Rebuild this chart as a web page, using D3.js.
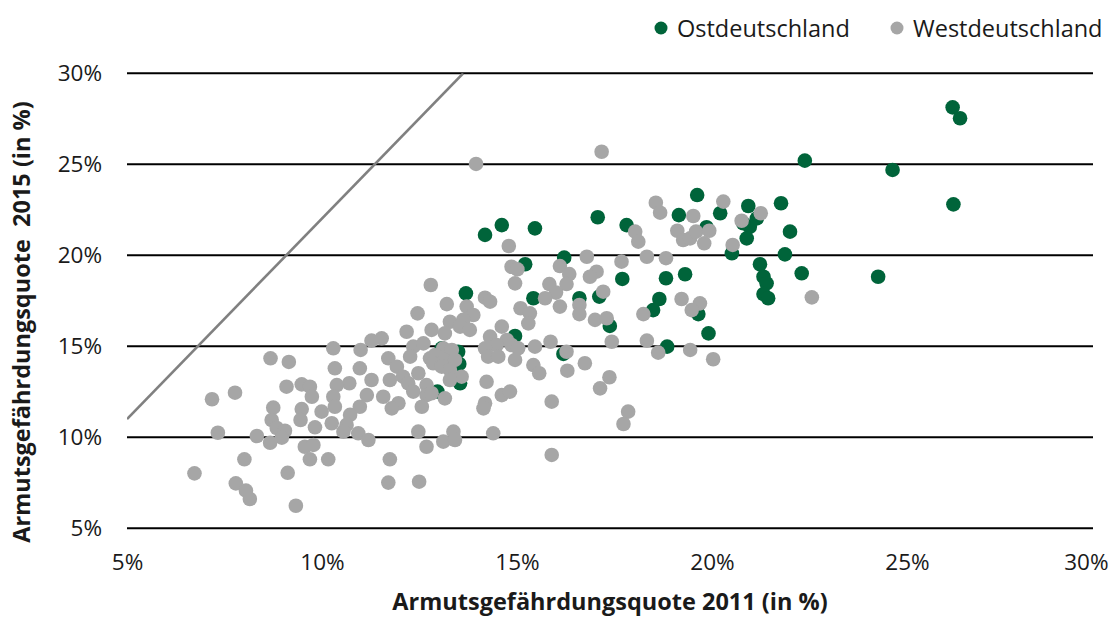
<!DOCTYPE html>
<html lang="de">
<head>
<meta charset="utf-8">
<script src="https://cdn.jsdelivr.net/npm/d3@7"></script>
<style>
  html, body { margin: 0; padding: 0; background: #fff; }
  svg { display: block; font-family: "Open Sans", "Noto Sans", sans-serif; }
</style>
</head>
<body>
<svg id="chart" width="1109" height="619"></svg>
<script>
// Armutsgefährdungsquote 2011 (x) vs. 2015 (y), in Prozent
const seriesNames = ["Ostdeutschland", "Westdeutschland"];
const seriesColors = ["#00643a", "#a6a6a6"];

const ostdeutschland = [
  [14.18,21.12],[14.61,21.66],[15.46,21.48],[15.21,19.51],[13.69,17.91],[15.42,17.64],
  [14.95,15.57],[13.07,14.89],[13.49,14.70],[13.52,14.03],[13.54,12.97],[12.96,12.51],
  [17.07,22.09],[17.81,21.66],[16.21,19.87],[17.70,18.70],[16.60,17.64],[17.11,17.73],
  [17.38,16.12],[16.19,14.58],
  [19.62,23.31],[19.15,22.21],[20.21,22.31],[19.86,21.54],[20.93,22.71],[21.15,22.03],
  [20.97,21.57],[20.80,21.76],[20.89,20.93],[20.51,20.11],[21.23,19.51],[21.32,18.82],
  [21.40,18.46],[21.32,17.87],[21.44,17.64],[18.82,18.74],[19.31,18.96],[18.65,17.60],
  [18.49,16.99],[19.65,16.77],[19.91,15.71],[18.85,14.98],
  [26.17,28.13],[26.36,27.53],[22.38,25.20],[24.63,24.69],[21.77,22.86],[26.19,22.80],
  [22.00,21.30],[21.87,20.05],[22.30,19.01],[24.26,18.82]
];

const westdeutschland = [
  [8.68,14.34],[9.15,14.14],[9.09,12.78],[9.48,12.91],[9.69,12.78],[9.74,12.23],
  [7.18,12.09],[7.77,12.45],[8.75,11.63],[9.48,11.55],[9.45,10.95],[9.99,11.41],
  [8.71,10.95],[8.84,10.51],[9.05,10.36],[8.97,9.98],[8.67,9.70],[9.82,10.55],
  [7.33,10.25],[8.33,10.07],[9.56,9.48],[9.78,9.58],[9.69,8.79],[10.16,8.79],
  [8.01,8.79],[6.73,8.02],[9.12,8.05],[7.79,7.47],[8.05,7.07],[8.15,6.61],[9.33,6.24],
  [12.79,18.37],[12.45,16.81],[12.81,15.90],[12.17,15.80],[11.53,15.44],[11.27,15.31],
  [10.29,14.89],[10.99,14.80],[12.34,14.98],[12.60,15.16],[11.70,14.34],[12.26,14.43],
  [12.77,14.34],[10.33,13.79],[10.97,13.79],[11.92,13.88],[12.08,13.33],[12.47,13.52],
  [10.70,12.97],[10.38,12.87],[11.27,13.15],[11.74,13.15],[12.21,12.97],[12.34,12.51],
  [12.68,12.87],[10.29,12.23],[11.15,12.32],[11.57,12.23],[11.96,11.87],[11.79,11.59],
  [12.68,12.32],[12.56,11.68],[10.33,11.68],[10.97,11.68],[10.72,11.23],[10.25,10.77],
  [10.63,10.68],[10.55,10.31],[10.93,10.22],[11.19,9.85],[12.47,10.31],[12.68,9.48],
  [11.74,8.79],[11.70,7.51],[12.49,7.56],
  [14.79,20.51],[14.86,19.37],[15.01,19.23],[14.95,18.46],[14.18,17.67],[14.31,17.45],
  [13.20,17.32],[15.09,17.09],[15.33,16.81],[15.29,16.26],[13.71,17.18],[13.88,16.72],
  [13.62,16.45],[13.28,16.35],[13.15,15.71],[13.54,16.08],[13.79,15.90],[14.61,16.08],
  [14.31,15.53],[14.74,15.35],[14.48,15.07],[14.86,15.07],[15.03,14.89],[14.18,14.89],
  [14.26,14.43],[14.52,14.43],[14.95,14.25],[15.46,14.98],[15.42,13.97],[13.11,14.89],
  [13.33,14.80],[12.90,14.52],[13.15,14.25],[13.41,14.25],[12.85,14.07],[13.07,13.88],
  [13.28,13.70],[13.58,13.33],[13.28,13.15],[13.15,12.14],[12.81,12.42],[14.22,13.05],
  [14.61,12.32],[14.82,12.51],[14.18,11.87],[14.14,11.59],[13.37,10.31],[13.11,9.76],
  [13.41,9.85],[14.39,10.22],
  [17.17,25.69],[18.03,21.30],[18.11,20.75],[16.79,19.92],[17.68,19.65],[18.33,19.92],
  [16.10,19.41],[16.34,18.97],[17.04,19.10],[16.87,18.82],[15.83,18.42],[16.27,18.42],
  [16.00,17.95],[15.72,17.64],[17.21,18.00],[16.60,17.27],[16.10,17.18],[16.60,16.77],
  [17.00,16.45],[17.30,16.54],[18.24,16.77],[17.43,15.25],[18.33,15.31],[15.86,15.25],
  [16.27,14.70],[15.57,13.52],[16.29,13.66],[16.74,14.07],[17.37,13.30],[17.13,12.69],
  [15.89,11.96],[17.85,11.41],[17.73,10.73],[15.89,9.03],
  [18.56,22.89],[18.67,22.34],[19.52,22.16],[20.29,22.95],[20.76,21.90],[21.25,22.31],
  [19.11,21.35],[19.26,20.84],[19.44,20.93],[19.59,21.30],[19.93,21.35],[19.80,20.66],
  [18.82,19.84],[20.53,20.57],[19.22,17.60],[19.69,17.36],[19.48,16.99],[18.62,14.65],
  [19.44,14.80],[20.03,14.29],
  [22.56,17.69],[13.95,25.02]
];

// Reference line
const referenceLine = [[5, 11.0], [13.62, 30]];

const xTicks = [5, 10, 15, 20, 25, 30];
const yTicks = [5, 10, 15, 20, 25, 30];
const xTitle = "Armutsgefährdungsquote 2011 (in %)";
const yTitle = "Armutsgefährdungsquote  2015 (in %)";

// Layout
const W = 1109;
const plotLeft = 127, plotRight = 1093, plotTop = 73.3, plotBottom = 528.3;
const dotRadius = 7.3;
const textColor = "#1a1a1a";

const svg = d3.select("#chart");

const x = d3.scaleLinear().domain([5, 30]).range([plotLeft, 1102]);
const y = d3.scaleLinear().domain([5, 30]).range([plotBottom, plotTop]);

// Horizontal gridlines
svg.append("g")
  .selectAll("line")
  .data(yTicks)
  .join("line")
  .attr("x1", plotLeft)
  .attr("x2", plotRight)
  .attr("y1", d => y(d))
  .attr("y2", d => y(d))
  .attr("stroke", "#000")
  .attr("stroke-width", 2);

// Y axis labels
const yAxis = svg.append("g")
  .attr("transform", `translate(${plotLeft - 25},0)`)
  .call(d3.axisLeft(y).tickValues(yTicks).tickFormat(d => d + "%").tickSize(0).tickPadding(0));
yAxis.select(".domain").remove();
yAxis.selectAll("text")
  .attr("font-family", "Open Sans, Noto Sans, sans-serif")
  .attr("font-size", 22.5)
  .attr("fill", textColor);

// X axis labels
const xAxis = svg.append("g")
  .attr("transform", `translate(0,${plotBottom + 26})`)
  .call(d3.axisBottom(x).tickValues(xTicks).tickFormat(d => d + "%").tickSize(0).tickPadding(0));
xAxis.select(".domain").remove();
xAxis.selectAll("text")
  .attr("font-family", "Open Sans, Noto Sans, sans-serif")
  .attr("font-size", 22.5)
  .attr("fill", textColor);
// keep the outermost label inside the chart area
xAxis.selectAll(".tick").filter(d => d === 30)
  .select("text")
  .attr("text-anchor", "end")
  .attr("x", W - 1 - x(30));

// Clip for the reference line
svg.append("clipPath").attr("id", "plotClip")
  .append("rect")
  .attr("x", plotLeft).attr("y", plotTop)
  .attr("width", plotRight - plotLeft).attr("height", plotBottom - plotTop);

svg.append("path")
  .datum(referenceLine)
  .attr("clip-path", "url(#plotClip)")
  .attr("fill", "none")
  .attr("stroke", "#808080")
  .attr("stroke-width", 2.6)
  .attr("d", d3.line().x(d => x(d[0])).y(d => y(d[1])));

// Points: Ostdeutschland first, Westdeutschland drawn on top
[ostdeutschland, westdeutschland].forEach((series, i) => {
  svg.append("g")
    .selectAll("circle")
    .data(series)
    .join("circle")
    .attr("cx", d => x(d[0]))
    .attr("cy", d => y(d[1]))
    .attr("r", dotRadius)
    .attr("fill", seriesColors[i]);
});

// Axis titles
svg.append("text")
  .attr("x", 610)
  .attr("y", 610)
  .attr("text-anchor", "middle")
  .attr("font-size", 23.5)
  .attr("font-weight", "bold")
  .attr("fill", textColor)
  .text(xTitle);

svg.append("text")
  .attr("transform", "translate(30,322) rotate(-90)")
  .attr("text-anchor", "middle")
  .attr("font-size", 23.5)
  .attr("font-weight", "bold")
  .attr("fill", textColor)
  .style("white-space", "pre")
  .text(yTitle);

// Legend
const legendItems = [
  { name: seriesNames[0], color: seriesColors[0], cx: 661 },
  { name: seriesNames[1], color: seriesColors[1], cx: 897 }
];
const legend = svg.append("g");
legendItems.forEach(item => {
  legend.append("circle")
    .attr("cx", item.cx).attr("cy", 28).attr("r", 6.5)
    .attr("fill", item.color);
  legend.append("text")
    .attr("x", item.cx + 16).attr("y", 36.5)
    .attr("font-size", 23.5)
    .attr("fill", textColor)
    .text(item.name);
});
</script>
</body>
</html>
